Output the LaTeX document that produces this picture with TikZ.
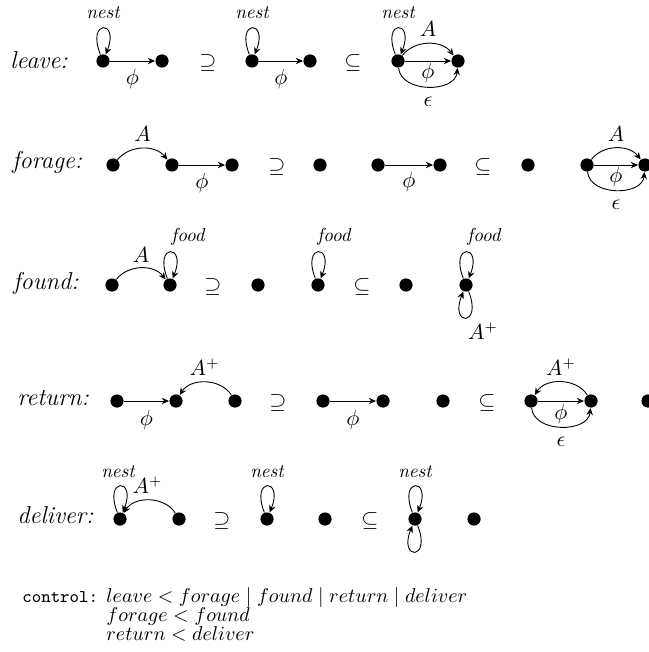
\documentclass[tikz,border=0pt]{standalone}
\usetikzlibrary{arrows.meta}
\begin{document}
\begin{tikzpicture}[x=0.5pt,y=0.5pt,
  dot/.style={circle,fill=black,inner sep=0pt,minimum size=6.6pt},
  arr/.style={-{Stealth[length=3.6pt,width=3.2pt]},line width=0.45pt},
  lbl/.style={inner sep=0pt,font=\fontsize{10.5}{12}\selectfont},
  tag/.style={inner sep=0pt,font=\fontsize{9.5}{11}\selectfont\itshape},
  rowname/.style={anchor=base west,inner sep=0pt,font=\fontsize{12.2}{14}\selectfont\itshape},
  rel/.style={inner sep=0pt,font=\fontsize{11}{13}\selectfont},
  ctrl/.style={anchor=base west,inner sep=0pt,font=\fontsize{10.3}{12}\selectfont},
  loopup/.style={arr,out=112,in=68,distance=19pt},
  loopdown/.style={arr,out=-68,in=-112,distance=19pt},
  lower/.style={arr,out=-85,in=-95,looseness=1.1},
]
\useasboundingbox (0,0) rectangle (648,-652);

% ---------- row 1: leave ----------
\node[rowname] (leave) at (10,-69) {leave:};
\node[dot] (n1) at (103,-61) {};
\node[dot] (n2) at (162,-61) {};
\node[rel] (r1a) at (208,-63) {$\supseteq$};
\node[dot] (n3) at (252,-61) {};
\node[dot] (n4) at (310,-61) {};
\node[rel] (r1b) at (353,-63) {$\subseteq$};
\node[dot] (n5) at (398,-61) {};
\node[dot] (n6) at (458,-61) {};
\draw[loopup] (n1) to node[tag,yshift=7.5pt] {nest} (n1);
\draw[arr] (n1) -- node[lbl,yshift=-9pt] {$\phi$} (n2);
\draw[loopup] (n3) to node[tag,yshift=7.5pt] {nest} (n3);
\draw[arr] (n3) -- node[lbl,yshift=-9pt] {$\phi$} (n4);
\draw[loopup] (n5) to node[tag,yshift=7.5pt] {nest} (n5);
\draw[arr] (n5) to[bend left=52] node[lbl,yshift=7.5pt] {$A$} (n6);
\draw[arr] (n5) -- node[lbl,yshift=-6pt] {$\phi$} (n6);
\draw[lower] (n5) to node[lbl,yshift=-7.5pt] {$\epsilon$} (n6);

% ---------- row 2: forage ----------
\node[rowname] (forage) at (12,-169) {forage:};
\node[dot] (a1) at (113,-165) {};
\node[dot] (a2) at (172,-165) {};
\node[dot] (a3) at (232,-165) {};
\node[rel] (r2a) at (277,-167) {$\supseteq$};
\node[dot] (b1) at (320,-165) {};
\node[dot] (b2) at (378,-165) {};
\node[dot] (b3) at (440,-165) {};
\node[rel] (r2b) at (483,-167) {$\subseteq$};
\node[dot] (c1) at (528,-165) {};
\node[dot] (c2) at (587,-165) {};
\node[dot] (c3) at (645,-165) {};
\draw[arr] (a1) to[bend left=50] node[lbl,yshift=7pt] {$A$} (a2);
\draw[arr] (a2) -- node[lbl,yshift=-9pt] {$\phi$} (a3);
\draw[arr] (b2) -- node[lbl,yshift=-8.5pt] {$\phi$} (b3);
\draw[arr] (c2) to[bend left=52] node[lbl,yshift=7pt] {$A$} (c3);
\draw[arr] (c2) -- node[lbl,yshift=-6pt] {$\phi$} (c3);
\draw[lower] (c2) to node[lbl,yshift=-7.5pt] {$\epsilon$} (c3);

% ---------- row 3: found ----------
\node[rowname] (found) at (13,-289) {found:};
\node[dot] (d1) at (112,-285) {};
\node[dot] (d2) at (170,-285) {};
\node[rel] (r3a) at (213,-287) {$\supseteq$};
\node[dot] (e1) at (258,-285) {};
\node[dot] (e2) at (318,-285) {};
\node[rel] (r3b) at (362,-287) {$\subseteq$};
\node[dot] (f1) at (406,-285) {};
\node[dot] (f2) at (466,-285) {};
\draw[arr] (d1) to[bend left=52] node[lbl,yshift=6.5pt] {$A$} (d2);
\draw[loopup] (d2) to node[tag,xshift=9pt,yshift=7.5pt] {food} (d2);
\draw[loopup] (e2) to node[tag,xshift=8pt,yshift=7.5pt] {food} (e2);
\draw[loopup] (f2) to node[tag,xshift=9pt,yshift=7.5pt] {food} (f2);
\draw[loopdown] (f2) to node[lbl,xshift=8.5pt,yshift=-6.5pt] {$A^+$} (f2);

% ---------- row 4: return ----------
\node[rowname] (return) at (17,-405) {return:};
\node[dot] (g1) at (117,-401) {};
\node[dot] (g2) at (176,-401) {};
\node[dot] (g3) at (235,-401) {};
\node[rel] (r4a) at (278,-403) {$\supseteq$};
\node[dot] (h1) at (323,-401) {};
\node[dot] (h2) at (383,-401) {};
\node[dot] (h3) at (443,-401) {};
\node[rel] (r4b) at (487,-403) {$\subseteq$};
\node[dot] (i1) at (531,-401) {};
\node[dot] (i2) at (591,-401) {};
\node[dot] (i3) at (648,-401) {};
\draw[arr] (g1) -- node[lbl,yshift=-9.5pt] {$\phi$} (g2);
\draw[arr] (g3) to[bend right=58] node[lbl,xshift=-0.5pt,yshift=7.5pt] {$A^+$} (g2);
\draw[arr] (h1) -- node[lbl,yshift=-9.5pt] {$\phi$} (h2);
\draw[arr] (i2) to[bend right=58] node[lbl,yshift=7.5pt] {$A^+$} (i1);
\draw[arr] (i1) -- node[lbl,yshift=-6.5pt] {$\phi$} (i2);
\draw[lower] (i1) to node[lbl,yshift=-7.5pt] {$\epsilon$} (i2);

% ---------- row 5: deliver ----------
\node[rowname] (deliver) at (17,-523) {deliver:};
\node[dot] (j1) at (120,-519) {};
\node[dot] (j2) at (179,-519) {};
\node[rel] (r5a) at (222,-521) {$\supseteq$};
\node[dot] (k1) at (267,-519) {};
\node[dot] (k2) at (325,-519) {};
\node[rel] (r5b) at (370,-521) {$\subseteq$};
\node[dot] (l1) at (415,-519) {};
\node[dot] (l2) at (474,-519) {};
\draw[loopup] (j1) to node[tag,xshift=-1pt,yshift=7pt] {nest} (j1);
\draw[arr] (j2) to[bend right=58] node[lbl,xshift=-1pt,yshift=7.5pt] {$A^+$} (j1);
\draw[loopup] (k1) to node[tag,yshift=7pt] {nest} (k1);
\draw[loopup] (l1) to node[tag,yshift=7pt] {nest} (l1);
\draw[loopdown] (l1) to (l1);

% ---------- control ----------
\node[anchor=base west,inner sep=0pt,font=\fontsize{9}{10}\selectfont] (ctl) at (22,-602) {\texttt{control:}};
\node[ctrl] (c1l) at (106,-602) {$leave < forage \mid found \mid return \mid deliver$};
\node[ctrl] (c2l) at (106,-621) {$forage < found$};
\node[ctrl] (c3l) at (106,-640) {$return < deliver$};
\end{tikzpicture}
\end{document}
